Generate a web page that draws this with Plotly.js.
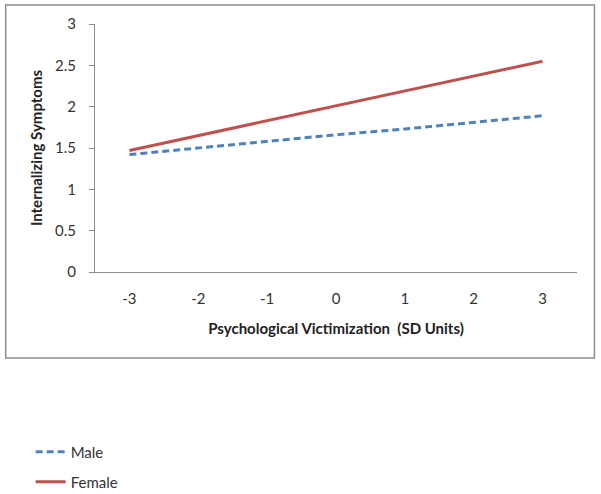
<!DOCTYPE html>
<html>
<head>
<meta charset="utf-8">
<script src="https://cdn.plot.ly/plotly-3.0.1.min.js"></script>
<style>html,body{margin:0;padding:0;background:#fff;}#chart{width:601px;height:494px;}</style>
</head>
<body>
<div id="chart"></div>
<script>
const xValues = [-3, -2, -1, 0, 1, 2, 3];
const maleValues = [1.42, 1.50, 1.58, 1.66, 1.73, 1.81, 1.89];
const femaleValues = [1.47, 1.65, 1.83, 2.01, 2.19, 2.37, 2.55];
const yTickVals = [0, 0.5, 1, 1.5, 2, 2.5, 3];
const yTickText = ['0', '0.5', '1', '1.5', '2', '2.5', '3'];
const xTickText = ['-3', '-2', '-1', '0', '1', '2', '3'];

const W = 601, H = 494;
const L = 94.5, R = 577.5, T = 24, B = 272;
const pw = R - L, ph = B - T;
const px = v => (v - L) / pw;
const py = v => (B - v) / ph;

const font = "Lato, 'Open Sans', sans-serif";

const traces = [
  {x: xValues, y: maleValues, name: 'Male', mode: 'lines', type: 'scatter',
   line: {color: '#4F81BD', width: 3, dash: '7px,4px'}, legend: 'legend'},
  {x: xValues, y: femaleValues, name: 'Female', mode: 'lines', type: 'scatter',
   line: {color: '#C0504D', width: 3}, legend: 'legend2'}
];

const layout = {
  width: W, height: H,
  margin: {l: L, r: W - R, t: T, b: H - B, pad: 0, autoexpand: false},
  paper_bgcolor: '#fff', plot_bgcolor: '#fff',
  font: {family: font, color: '#333', size: 15},
  showlegend: true,
  xaxis: {
    range: [-3.5, 3.5], tickvals: xValues, ticktext: xTickText,
    showgrid: false, zeroline: false, showline: true, linecolor: '#8c8c8c', linewidth: 1,
    ticks: '', ticklabelstandoff: 13, tickfont: {size: 15, color: '#333', family: font},
    title: {text: 'Psychological Victimization  (SD Units)', standoff: 17,
            font: {size: 15, color: '#222', family: font, weight: 'bold'}},
    fixedrange: true
  },
  yaxis: {
    range: [0, 3], tickvals: yTickVals, ticktext: yTickText,
    showgrid: false, zeroline: false, showline: true, linecolor: '#8c8c8c', linewidth: 1,
    ticks: 'outside', ticklen: 5, tickcolor: '#8c8c8c', ticklabelstandoff: 10,
    tickfont: {size: 15, color: '#333', family: font},
    title: {text: 'Internalizing Symptoms', standoff: 8,
            font: {size: 15, color: '#222', family: font, weight: 'bold'}},
    fixedrange: true
  },
  legend: {x: px(30), y: py(452), yanchor: 'middle', xanchor: 'left', bgcolor: 'rgba(0,0,0,0)',
           font: {size: 15, color: '#333', family: font}, itemwidth: 30},
  legend2: {x: px(30), y: py(482), yanchor: 'middle', xanchor: 'left', bgcolor: 'rgba(0,0,0,0)',
           font: {size: 15, color: '#333', family: font}, itemwidth: 30},
  shapes: [
    {type: 'rect', xref: 'paper', yref: 'paper', x0: px(5), x1: px(595), y0: py(358), y1: py(5),
     line: {color: '#8c8c8c', width: 1.5}, fillcolor: 'rgba(0,0,0,0)', layer: 'below'}
  ]
};

Plotly.newPlot('chart', traces, layout, {displayModeBar: false, staticPlot: true});
</script>
</body>
</html>
